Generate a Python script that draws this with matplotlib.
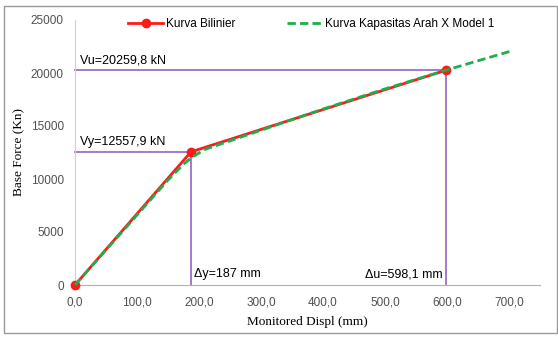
import matplotlib
matplotlib.use("Agg")
import matplotlib.pyplot as plt
from matplotlib.patches import Rectangle

# Data
bil_x = [0.0, 187.0, 598.1]
bil_y = [0.0, 12557.9, 20259.8]
cap_x = [0, 50, 100, 150, 175, 190, 210, 250, 300, 400, 500, 598.1, 705]
cap_y = [0, 3300, 6600, 9900, 11400, 12100, 12800, 13600, 14600, 16600, 18500, 20259.8, 22100]
dy, vy = 187.0, 12557.9
du, vu = 598.1, 20259.8
xticks = [0, 100, 200, 300, 400, 500, 600, 700]
yticks = [0, 5000, 10000, 15000, 20000, 25000]

plt.rcParams['font.family'] = ['Liberation Sans', 'DejaVu Sans']
fig = plt.figure(figsize=(5.58, 3.38), dpi=100)
ax = fig.add_axes([75/558, 1-285/338, (540-75)/558, (285-20)/338])

fig.patches.append(Rectangle((4/558, 5/338), 553/558, 327/338, transform=fig.transFigure,
                             fill=False, edgecolor='#999999', lw=1))

purple = '#9B6FCB'
ax.plot([0, du], [vu, vu], color=purple, lw=1.3, zorder=2)
ax.plot([du, du], [0, vu], color=purple, lw=1.3, zorder=2)
ax.plot([0, dy], [vy, vy], color=purple, lw=1.3, zorder=2)
ax.plot([dy, dy], [0, vy], color=purple, lw=1.3, zorder=2)

ax.plot(bil_x, bil_y, color='#FF1A1A', lw=2, marker='o', ms=6, label='Kurva Bilinier', zorder=3)
ax.plot(cap_x, cap_y, color='#1DAF4B', lw=2, ls=(0, (3, 1.5)), label='Kurva Kapasitas Arah X Model 1', zorder=4)

ax.text(8, vu + 350, 'Vu=20259,8 kN', fontsize=9, ha='left', va='bottom')
ax.text(8, vy + 350, 'Vy=12557,9 kN', fontsize=9, ha='left', va='bottom')
ax.text(dy + 5, 450, 'Δy=187 mm', fontsize=9, ha='left', va='bottom')
ax.text(du - 5, 450, 'Δu=598,1 mm', fontsize=9, ha='right', va='bottom')

ax.set_xlim(0, 750)
ax.set_ylim(0, 25000)
ax.set_xticks(xticks)
ax.set_xticklabels([f"{v:.1f}".replace('.', ',') for v in xticks], fontsize=8.5, color='#505050')
ax.set_yticks(yticks)
ax.set_yticklabels([str(v) for v in yticks], fontsize=8.5, color='#505050')
ax.tick_params(length=0, pad=8)
for s in ['top', 'right']:
    ax.spines[s].set_visible(False)
ax.spines['left'].set_color('#D0D0D0')
ax.spines['bottom'].set_color('#B0B0B0')
ax.set_xlabel('Monitored Displ (mm)', family='Liberation Serif', fontsize=9.5, labelpad=6)
ax.set_ylabel('Base Force (Kn)', family='Liberation Serif', fontsize=9.5, labelpad=4)

ax.legend(loc='upper left', bbox_to_anchor=(53/465, 1 + 2/265), ncol=2, frameon=False, fontsize=8.5,
          handlelength=3.0, columnspacing=4.4, handletextpad=0.2, borderpad=0, borderaxespad=0)

for c in ax.get_children():
    if hasattr(c, 'set_clip_on'):
        c.set_clip_on(False)

fig.savefig('out.png', dpi=100)
